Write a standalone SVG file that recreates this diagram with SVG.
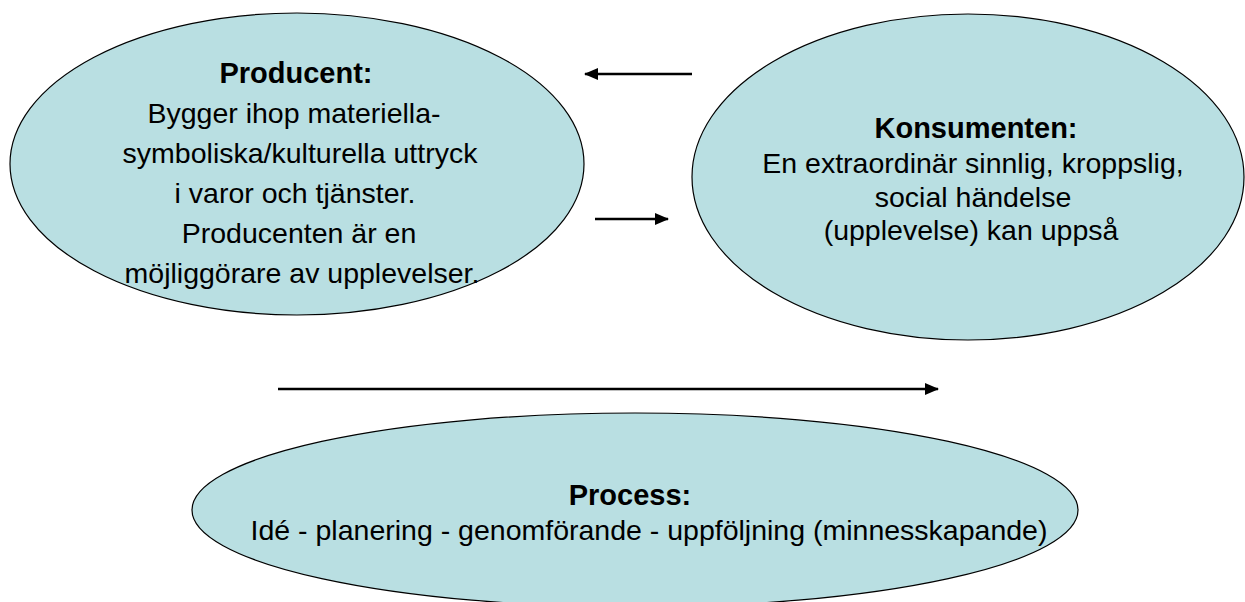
<svg xmlns="http://www.w3.org/2000/svg" width="1245" height="602" viewBox="0 0 1245 602">
  <style>
    .bubble { fill: #b9dfe2; stroke: #000; stroke-width: 1.2; }
    .head { font-family: "Liberation Sans", Arial, sans-serif; font-weight: bold; font-size: 29px; fill: #000; text-anchor: middle; }
    .body { font-family: "Liberation Sans", Arial, sans-serif; font-size: 28.5px; fill: #000; text-anchor: middle; }
    .flow { stroke: #000; stroke-width: 2.6; fill: none; }
  </style>
  <defs>
    <marker id="tip" markerUnits="userSpaceOnUse" markerWidth="14" markerHeight="12" refX="13" refY="6" orient="auto">
      <path d="M0,0 L14,6 L0,12 Z" fill="#000"/>
    </marker>
  </defs>
  <rect width="1245" height="602" fill="#fff"/>

  <g id="producent">
    <ellipse class="bubble" cx="297" cy="164" rx="287" ry="151"/>
    <text class="head" x="296" y="83">Producent:</text>
    <text class="body" x="294" y="123">Bygger ihop materiella-</text>
    <text class="body" x="300" y="163">symboliska/kulturella uttryck</text>
    <text class="body" x="295" y="203">i varor och tjänster.</text>
    <text class="body" x="299" y="243">Producenten är en</text>
    <text class="body" x="302" y="283">möjliggörare av upplevelser.</text>
  </g>

  <g id="konsumenten">
    <ellipse class="bubble" cx="968" cy="177" rx="276" ry="163"/>
    <text class="head" x="976" y="138">Konsumenten:</text>
    <text class="body" x="973" y="173">En extraordinär sinnlig, kroppslig,</text>
    <text class="body" x="973" y="207">social händelse</text>
    <text class="body" x="971" y="240">(upplevelse) kan uppså</text>
  </g>

  <g id="process">
    <ellipse class="bubble" cx="635" cy="510" rx="443" ry="97"/>
    <text class="head" x="630" y="505">Process:</text>
    <text class="body" x="649" y="540">Idé - planering - genomförande - uppföljning (minnesskapande)</text>
  </g>

  <g id="connectors">
    <line class="flow" x1="692" y1="74" x2="585" y2="74" marker-end="url(#tip)"/>
    <line class="flow" x1="595" y1="219" x2="668" y2="219" marker-end="url(#tip)"/>
    <line class="flow" x1="278" y1="389" x2="938" y2="389" marker-end="url(#tip)"/>
  </g>
</svg>
